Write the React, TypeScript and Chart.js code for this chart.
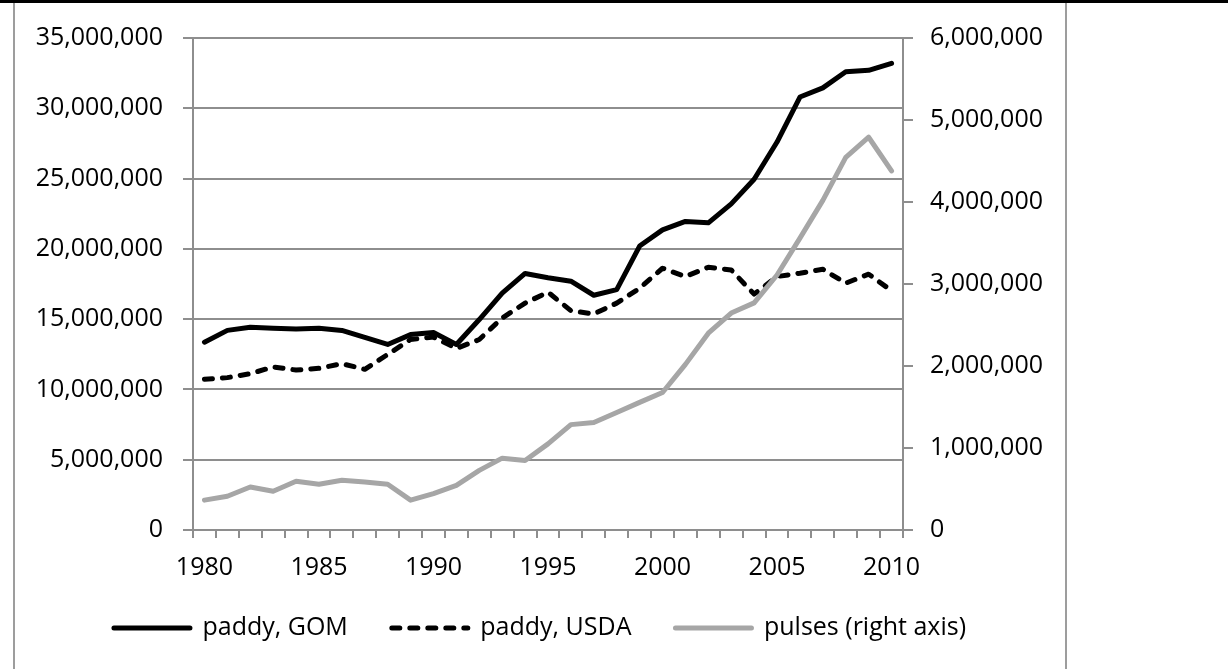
import React, { useEffect, useRef } from "react";
import { Chart, registerables } from "chart.js";

Chart.register(...registerables);

const years = [
  "1980", "1981", "1982", "1983", "1984", "1985", "1986", "1987", "1988", "1989",
  "1990", "1991", "1992", "1993", "1994", "1995", "1996", "1997", "1998", "1999",
  "2000", "2001", "2002", "2003", "2004", "2005", "2006", "2007", "2008", "2009", "2010",
];

const paddyGOM = [
  13360000, 14200000, 14420000, 14350000, 14300000, 14350000, 14200000, 13700000, 13200000, 13900000,
  14050000, 13200000, 14970000, 16850000, 18250000, 17950000, 17700000, 16700000, 17100000, 20200000,
  21350000, 21950000, 21850000, 23200000, 24950000, 27600000, 30800000, 31450000, 32600000, 32700000, 33200000,
];

const paddyUSDA = [
  10720000, 10840000, 11120000, 11600000, 11380000, 11500000, 11830000, 11430000, 12490000, 13550000,
  13720000, 12920000, 13550000, 15080000, 16140000, 16920000, 15600000, 15370000, 16140000, 17200000,
  18620000, 18030000, 18690000, 18500000, 16780000, 18030000, 18270000, 18550000, 17560000, 18200000, 17020000,
];

const pulses = [
  364000, 412000, 525000, 473000, 594000, 558000, 606000, 585000, 558000, 364000,
  444000, 545000, 727000, 876000, 848000, 1050000, 1285000, 1310000, 1434000, 1556000,
  1677000, 2020000, 2400000, 2646000, 2770000, 3110000, 3560000, 4020000, 4545000, 4790000, 4380000,
];

const seriesNames = ["paddy, GOM", "paddy, USDA", "pulses (right axis)"];
const leftAxis = { min: 0, max: 35000000, step: 5000000 };
const rightAxis = { min: 0, max: 6000000, step: 1000000 };

const FONT = '"Open Sans", sans-serif';
const GRID = "#8e8e8e";

export default function App() {
  const canvasRef = useRef<HTMLCanvasElement | null>(null);

  useEffect(() => {
    const canvas = canvasRef.current;
    if (!canvas) return;
    const fmt = (v: any) => Number(v).toLocaleString("en-US");
    const chart = new Chart(canvas, {
      type: "line",
      data: {
        labels: years,
        datasets: [
          {
            label: seriesNames[0],
            data: paddyGOM,
            yAxisID: "y",
            borderColor: "#000000",
            backgroundColor: "#000000",
            borderWidth: 5,
            borderCapStyle: "round",
            borderJoinStyle: "round",
            pointRadius: 0,
            tension: 0,
            order: 1,
          },
          {
            label: seriesNames[1],
            data: paddyUSDA,
            yAxisID: "y",
            borderColor: "#000000",
            backgroundColor: "#000000",
            borderWidth: 5,
            borderDash: [8, 10],
            borderCapStyle: "round",
            borderJoinStyle: "round",
            pointRadius: 0,
            tension: 0,
            order: 1,
          },
          {
            label: seriesNames[2],
            data: pulses,
            yAxisID: "y1",
            borderColor: "#a6a6a6",
            backgroundColor: "#a6a6a6",
            borderWidth: 5,
            borderCapStyle: "round",
            borderJoinStyle: "round",
            pointRadius: 0,
            tension: 0,
            order: 0,
          },
        ],
      },
      options: {
        animation: false,
        responsive: false,
        devicePixelRatio: 1,
        layout: { padding: { top: 32, bottom: 18.5, left: 0, right: 0 } },
        plugins: {
          tooltip: { enabled: false },
          legend: {
            position: "bottom",
            labels: {
              usePointStyle: true,
              pointStyle: "line",
              pointStyleWidth: 76,
              boxHeight: 25,
              padding: 44,
              color: "#000000",
              font: { family: FONT, size: 25 },
              generateLabels: (c: any) =>
                c.data.datasets.map((ds: any, i: number) => ({
                  text: ds.label,
                  datasetIndex: i,
                  strokeStyle: ds.borderColor,
                  fillStyle: ds.borderColor,
                  lineWidth: 5,
                  lineDash: ds.borderDash || [],
                  lineCap: "round",
                  lineJoin: "round",
                  pointStyle: "line",
                  hidden: false,
                  fontColor: "#000000",
                })),
            },
          },
        },
        scales: {
          x: {
            type: "category",
            offset: true,
            grid: {
              offset: true,
              drawOnChartArea: false,
              drawTicks: true,
              tickLength: 8,
              color: GRID,
              lineWidth: 2,
            },
            border: { display: true, color: GRID, width: 2 },
            ticks: {
              autoSkip: false,
              maxRotation: 0,
              minRotation: 0,
              padding: 15,
              color: "#000000",
              font: { family: FONT, size: 25 },
              callback: (_v: any, i: number) => (i % 5 === 0 ? years[i] : ""),
            },
            afterFit: (s: any) => {
              s.height = 41.5;
              s._computeLabelArea = () => undefined;
            },
          },
          y: {
            position: "left",
            min: leftAxis.min,
            max: leftAxis.max,
            ticks: {
              stepSize: leftAxis.step,
              padding: 20,
              color: "#000000",
              font: { family: FONT, size: 25 },
              callback: fmt,
            },
            grid: { color: GRID, lineWidth: 2, tickLength: 10, drawTicks: true },
            border: { display: true, color: GRID, width: 2 },
            afterFit: (s: any) => {
              s.width = 178;
            },
          },
          y1: {
            position: "right",
            min: rightAxis.min,
            max: rightAxis.max,
            ticks: {
              stepSize: rightAxis.step,
              padding: 17,
              color: "#000000",
              font: { family: FONT, size: 25 },
              callback: fmt,
            },
            grid: { drawOnChartArea: false, color: GRID, lineWidth: 2, tickLength: 10, drawTicks: true },
            border: { display: true, color: GRID, width: 2 },
            afterFit: (s: any) => {
              s.width = 162;
            },
          },
        },
      },
    } as any);
    return () => chart.destroy();
  }, []);

  return (
    <div style={{ position: "fixed", left: 0, top: 0, width: 1228, height: 669, background: "#ffffff", overflow: "hidden" }}>
      <div style={{ position: "absolute", left: 0, top: 0, width: 1228, height: 3, background: "#000000" }} />
      <div
        style={{
          position: "absolute",
          left: 13,
          top: 3,
          width: 1050,
          height: 680,
          borderLeft: "2px solid #9d9d9d",
          borderRight: "2px solid #9d9d9d",
        }}
      />
      <canvas
        ref={canvasRef}
        width={1050}
        height={666}
        style={{ position: "absolute", left: 15, top: 3, width: 1050, height: 666 }}
      />
    </div>
  );
}
